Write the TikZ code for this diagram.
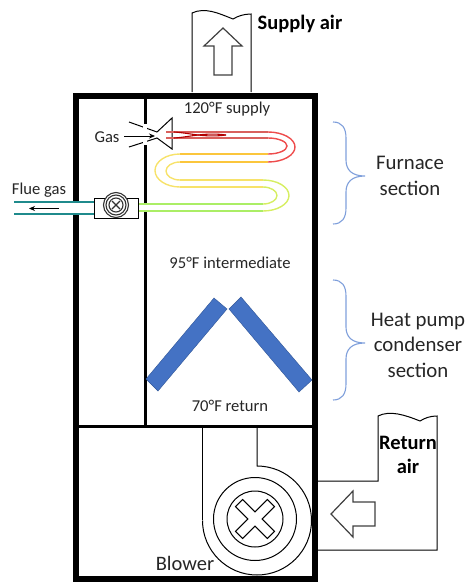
\documentclass[tikz,border=0pt]{standalone}
\usepackage{fontspec}
\setmainfont{Carlito}
\usepackage{tikz}
\usetikzlibrary{arrows.meta}

\definecolor{coilblue}{HTML}{4472C4}
\definecolor{coiledge}{HTML}{2F5597}
\definecolor{bracecol}{HTML}{7F9FDB}
\definecolor{fluecol}{HTML}{1F8A8C}
\definecolor{tubered}{HTML}{D9605C}
\definecolor{tubebend}{HTML}{EE4C4C}
\definecolor{tubeorange}{HTML}{FBC63C}
\definecolor{tubeyellow}{HTML}{F7E26A}
\definecolor{tubelime}{HTML}{D6EE62}
\definecolor{tubegreen}{HTML}{ABEE66}

\tikzset{
  wall/.style={line width=3pt},
  duct/.style={draw=black,line width=1pt},
  airarrow/.style={draw=black!75,line width=1.2pt,fill=white},
  tube/.style={line width=1.4pt},
  coilbar/.style={fill=coilblue,draw=coiledge,line width=0.4pt},
  sectionbrace/.style={draw=bracecol,line width=1.1pt},
  smalltext/.style={font=\fontsize{16.6}{18}\selectfont,text=black!85},
  bigtext/.style={font=\fontsize{20.8}{25.5}\selectfont,text=black!85,align=center},
  boldtext/.style={font=\fontsize{20.5}{24}\selectfont\bfseries,align=center},
}

\begin{document}
\begin{tikzpicture}[x=1pt,y=-1pt]
\useasboundingbox (0,0) rectangle (470,582);

% Cabinet
\draw[line width=6pt] (76,96) rectangle (315,579);
\draw[wall] (145,96) -- (145,426);
\draw[wall] (76,426) -- (315,426);

% Supply duct
\draw[duct] (192,92) -- (192,13) .. controls (205,7) and (218,13) .. (233,19) .. controls (238,16) and (244,14) .. (251,14) -- (251,92);
\draw[airarrow] (223,28) -- (242,46) -- (232,46) -- (232,75) -- (214,75) -- (214,46) -- (204,46) -- cycle;
\node[boldtext] (supplyair) at (300,24) {Supply air};
\node[smalltext] (supplytemp) at (227,109) {120°F supply};

% Gas burner
\draw[fill=white,draw=black,line width=1pt] (129,122) -- (157,132) -- (172,118) -- (172,149) -- (157,138) -- (129,147);
\fill[white] (143,124) rectangle (147,145);
\node[smalltext] (gaslabel) at (107,137) {Gas};
\draw[-{Stealth[length=6pt,width=5pt]},line width=0.8pt] (124,136) -- (155,136);

% Heat exchanger tubes
\draw[tube,tubered] (166,132) -- (268,132) (166,138) -- (268,138);
\draw[tube,tubebend] (268,132) arc (-90:90:27 and 15);
\draw[tube,tubebend] (268,138) arc (-90:90:19 and 8);
\draw[tube,tubeorange] (268,154) -- (180,154) (268,162) -- (180,162);
\draw[tube,tubeyellow] (180,154) arc (270:90:25 and 16.5);
\draw[tube,tubeyellow] (180,162) arc (270:90:14 and 9);
\draw[tube,tubeyellow] (180,180) -- (263,180) (180,187) -- (263,187);
\draw[tube,tubelime] (263,180) arc (-90:90:26 and 15.5);
\draw[tube,tubelime] (263,187) arc (-90:90:14 and 8.5);
\draw[tube,tubegreen] (263,204) -- (138,204) (263,211) -- (138,211);
\fill[white] (143,205) rectangle (147,210);

% Flame
\draw[line width=1.1pt,red!70!black] (174,132) .. controls (190,133) and (205,138) .. (226,135);
\draw[line width=1.1pt,red!70!black] (174,138) .. controls (190,137) and (205,132) .. (226,135);

% Flue pipe and inducer
\fill[white] (14,203) rectangle (94,213);
\draw[line width=1.4pt,fluecol] (14,202) -- (94,202) (14,214) -- (94,214);
\draw[-{Stealth[length=6pt,width=5pt]},line width=0.8pt] (59,208.5) -- (29,208.5);
\draw[fill=white,line width=0.9pt] (94,198) rectangle (138,218);
\draw[fill=white,line width=1.1pt,draw=black!80] (116,205) circle (12.5);
\draw[line width=1.1pt,draw=black!80] (116,205) circle (10);
\draw[line width=1.1pt,draw=black!80] (116,205) circle (7);
\draw[line width=1.3pt,draw=black!80] (112,201) -- (120,209) (120,201) -- (112,209);
\node[smalltext] (fluelabel) at (39,190) {Flue gas};

% Intermediate and return temperatures
\node[smalltext] (midtemp) at (230,263) {95°F intermediate};
\node[smalltext] (returntemp) at (230,406) {70°F return};

% Condenser coil
\draw[coilbar] (146,379) -- (214,298) -- (227,309) -- (158,391) -- cycle;
\draw[coilbar] (229,309) -- (241,297) -- (312,380) -- (299,392) -- cycle;

% Section braces
\draw[sectionbrace] (333,122) .. controls (342,122) and (346,128) .. (346,138) -- (346,160) .. controls (346,170) and (352,176) .. (365,176) .. controls (352,176) and (346,182) .. (346,192) -- (346,208) .. controls (346,218) and (342,224) .. (333,224);
\draw[sectionbrace] (333,280) .. controls (342,280) and (346,286) .. (346,296) -- (346,327) .. controls (346,337) and (352,343) .. (365,343) .. controls (352,343) and (346,349) .. (346,359) -- (346,384) .. controls (346,394) and (342,400) .. (333,400);
\node[bigtext] (furnace) at (410,176) {Furnace\\section};
\node[bigtext] (condenser) at (418,345) {Heat pump\\condenser\\section};

% Blower housing
\draw[duct] (202,427) -- (202,520);
\draw[duct] (257,427) -- (257,466) arc (-90:180:54.5);
\draw[duct] (255,519) circle (41.5);
\draw[duct] (255,519) circle (28);
\draw[duct,rotate around={45:(255,519)}] (250,496.5) -- (260,496.5) -- (260,514) -- (277.5,514) -- (277.5,524) -- (260,524) -- (260,541.5) -- (250,541.5) -- (250,524) -- (232.5,524) -- (232.5,514) -- (250,514) -- cycle;
\node[font=\fontsize{20.5}{24}\selectfont,text=black!85] (blowerlabel) at (185,563) {Blower};

% Return duct
\draw[duct] (318,481) -- (378,481) -- (378,416) .. controls (390,410) and (405,415) .. (420,421) .. controls (425,418) and (430,416) .. (437,416) -- (437,550) -- (318,550);
\draw[airarrow] (331,514) -- (353,491) -- (353,502) -- (375,502) -- (375,526) -- (353,526) -- (353,537) -- cycle;
\node[boldtext] (returnair) at (408,455) {Return\\air};

\end{tikzpicture}
\end{document}
